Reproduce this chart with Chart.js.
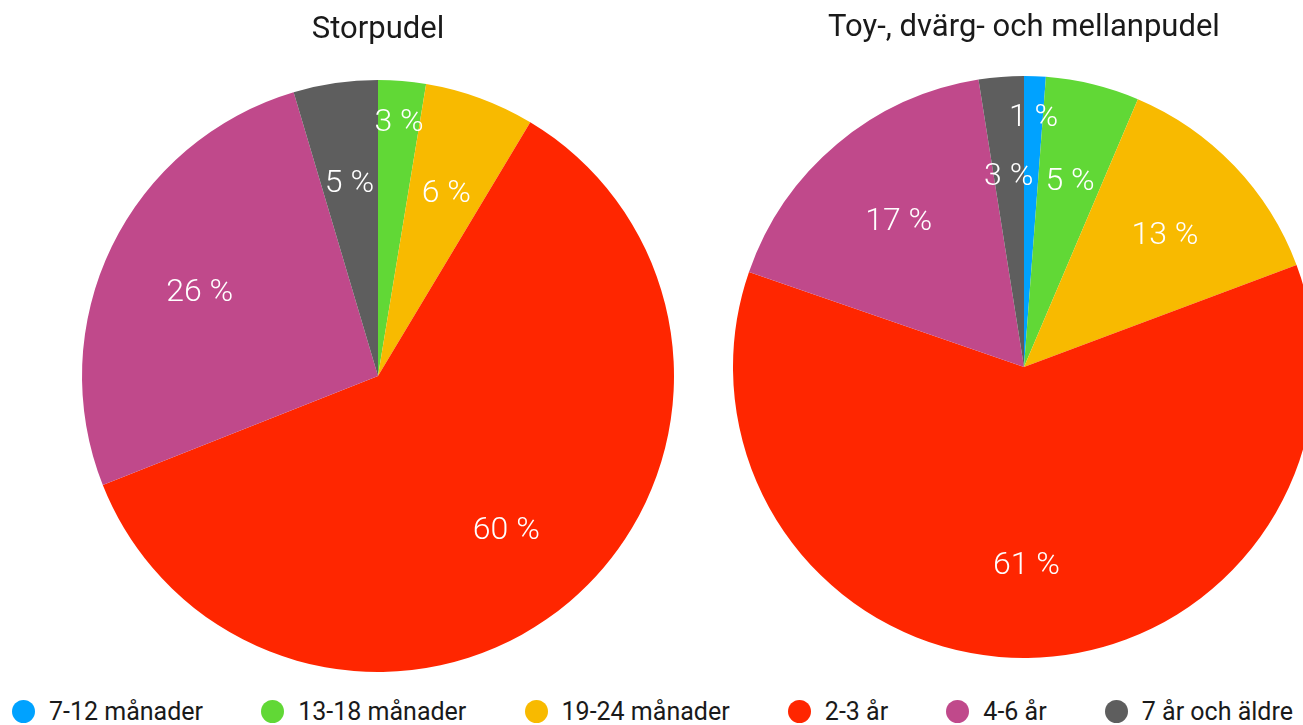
<!DOCTYPE html>
<html lang="sv">
<head>
<meta charset="utf-8">
<script src="https://cdn.jsdelivr.net/npm/chart.js@4"></script>
<style>
  html, body { margin: 0; padding: 0; background: #fff; overflow: hidden; }
  body { width: 1303px; height: 725px; position: relative; font-family: Roboto, sans-serif; }
  .box { position: absolute; top: 0; }
  #leftBox { left: 0; width: 756px; height: 672px; }
  #rightBox { left: 724px; width: 600px; height: 658px; }
  #legend {
    position: absolute; left: 12px; right: 10px; top: 698px; height: 27px;
    display: flex; justify-content: space-between; align-items: center;
  }
  .item { display: flex; align-items: center; font-size: 25px; color: #1a1a1a; white-space: nowrap; }
  .dot { width: 23px; height: 23px; border-radius: 50%; margin-right: 14px; }
</style>
</head>
<body>
<div class="box" id="leftBox"><canvas id="storChart"></canvas></div>
<div class="box" id="rightBox"><canvas id="toyChart"></canvas></div>
<div id="legend"></div>

<script>
// Age groups and share (%) per group
const categories = ["7-12 månader", "13-18 månader", "19-24 månader", "2-3 år", "4-6 år", "7 år och äldre"];
const storpudelValues = [0, 2.6, 6.0, 60.4, 26.4, 4.6];
const toyValues = [1.2, 5.2, 12.9, 61.0, 17.2, 2.5];
const colors = ["#00a2ff", "#61d836", "#f8ba00", "#ff2600", "#c0498b", "#5e5e5e"];

// Percentage labels drawn inside the slices
const sliceLabels = {
  id: "sliceLabels",
  afterDatasetsDraw(chart) {
    const ctx = chart.ctx;
    const values = chart.data.datasets[0].data;
    const total = values.reduce((a, b) => a + b, 0);
    const smallest = Math.min(...values.filter(v => v > 0));
    ctx.save();
    ctx.fillStyle = "#ffffff";
    ctx.font = "300 32px Roboto";
    ctx.textAlign = "center";
    ctx.textBaseline = "middle";
    chart.getDatasetMeta(0).data.forEach((arc, i) => {
      const v = values[i];
      if (!v) return;
      const mid = (arc.startAngle + arc.endAngle) / 2;
      const frac = v === smallest ? 0.87 : 0.67;
      const r = arc.outerRadius * frac;
      const pct = Math.round(v / total * 100);
      ctx.fillText(pct + " %", arc.x + Math.cos(mid) * r, arc.y + Math.sin(mid) * r + 4);
    });
    ctx.restore();
  }
};

function makePie(id, title, values, padTop, padBottom) {
  return new Chart(document.getElementById(id), {
    type: "pie",
    data: {
      labels: categories,
      datasets: [{ data: values, backgroundColor: colors, borderWidth: 0 }]
    },
    options: {
      responsive: true,
      maintainAspectRatio: false,
      animation: false,
      layout: { padding: 0 },
      plugins: {
        legend: { display: false },
        tooltip: { enabled: false },
        title: {
          display: true,
          text: title,
          color: "#1a1a1a",
          font: { family: "Roboto", size: 31, weight: "normal" },
          padding: { top: padTop, bottom: padBottom }
        }
      }
    },
    plugins: [sliceLabels]
  });
}

makePie("storChart", "Storpudel", storpudelValues, 11.4, 31.4);
makePie("toyChart", "Toy-, dvärg- och mellanpudel", toyValues, 9.4, 29.4);

// Shared legend under both pies
const legend = document.getElementById("legend");
categories.forEach((cat, i) => {
  const item = document.createElement("div");
  item.className = "item";
  item.innerHTML = `<span class="dot" style="background:${colors[i]}"></span>${cat}`;
  legend.appendChild(item);
});
</script>
</body>
</html>
